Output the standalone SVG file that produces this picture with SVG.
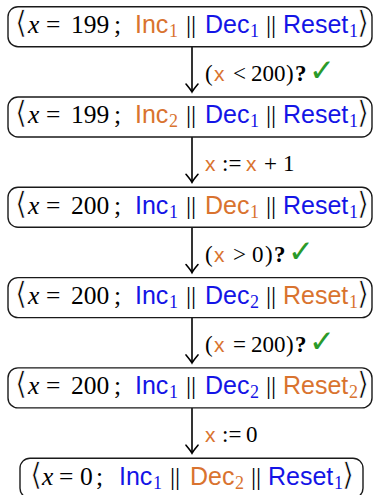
<svg xmlns="http://www.w3.org/2000/svg" width="373" height="495" viewBox="0 0 373 495">
<defs>
<style>
.box{fill:#fff;stroke:#1a1a1a;stroke-width:1.4}
.t{font-family:"Liberation Serif",serif;font-size:25.5px;fill:#000}
.it{font-style:italic}
.sf{font-family:"Liberation Sans",sans-serif;font-size:25px}
.sub{font-family:"Liberation Serif",serif;font-size:18px}
.br{font-family:"DejaVu Sans",sans-serif;font-size:31px;stroke:#fff;stroke-width:0.7}
.o{fill:#D9732F}
.b{fill:#1414E6}
.lab{font-family:"Liberation Serif",serif;font-size:23px;fill:#000}
.lsf{font-family:"Liberation Sans",sans-serif;font-size:21px}
.q{font-weight:bold}
.ck{font-family:"DejaVu Sans",sans-serif;font-size:31px;fill:#2A9A2A}
.arr{stroke:#000;stroke-width:1.6;fill:none}
</style>
<marker id="ah" markerUnits="userSpaceOnUse" viewBox="-10 -8 12 16" markerWidth="12" markerHeight="16" refX="0" refY="0" orient="auto" overflow="visible">
<path d="M -8 -6 Q -2 -1 0 0 Q -2 1 -8 6" fill="none" stroke="#000" stroke-width="1.6" stroke-linecap="round"/>
</marker>
</defs>
<g id="connectors">
<line class="arr" x1="192" y1="46.7" x2="192" y2="92" marker-end="url(#ah)"/>
<line class="arr" x1="192" y1="137" x2="192" y2="182.3" marker-end="url(#ah)"/>
<line class="arr" x1="192" y1="227.3" x2="192" y2="272.6" marker-end="url(#ah)"/>
<line class="arr" x1="192" y1="317.6" x2="192" y2="362.9" marker-end="url(#ah)"/>
<line class="arr" x1="192" y1="407.9" x2="192" y2="453.2" marker-end="url(#ah)"/>
<text class="lab" y="81"><tspan x="205">(</tspan><tspan class="lsf o" x="214">x</tspan><tspan x="233">&lt;</tspan><tspan x="251">200</tspan><tspan x="286">)</tspan><tspan class="q" x="295">?</tspan><tspan class="ck" x="309">✓</tspan></text>
<text class="lab" y="171"><tspan class="lsf o" x="205">x</tspan><tspan x="222">:=</tspan><tspan class="lsf o" x="246">x</tspan><tspan x="264">+</tspan><tspan x="283">1</tspan></text>
<text class="lab" y="262"><tspan x="205">(</tspan><tspan class="lsf o" x="214">x</tspan><tspan x="233">&gt;</tspan><tspan x="252">0</tspan><tspan x="265">)</tspan><tspan class="q" x="274">?</tspan><tspan class="ck" x="288">✓</tspan></text>
<text class="lab" y="352"><tspan x="205">(</tspan><tspan class="lsf o" x="214">x</tspan><tspan x="233">=</tspan><tspan x="251">200</tspan><tspan x="286">)</tspan><tspan class="q" x="295">?</tspan><tspan class="ck" x="309">✓</tspan></text>
<text class="lab" y="442"><tspan class="lsf o" x="205">x</tspan><tspan x="222">:=</tspan><tspan x="246">0</tspan></text>
</g>
<g id="s1">
<rect class="box" x="8" y="6.7" width="364" height="40" rx="10"/>
<text class="t" y="33"><tspan class="br" x="15">⟨</tspan><tspan class="it" x="28">x</tspan><tspan x="46">=</tspan><tspan x="71">199</tspan><tspan x="114">;</tspan><tspan class="sf o" x="135">Inc</tspan><tspan class="sub o" x="169" y="37">1</tspan><tspan x="186" y="33">||</tspan><tspan class="sf b" x="205">Dec</tspan><tspan class="sub b" x="250" y="37">1</tspan><tspan x="266" y="33">||</tspan><tspan class="sf b" x="283">Reset</tspan><tspan class="sub b" x="349" y="37">1</tspan><tspan class="br" x="357" y="33">⟩</tspan></text>
</g>
<g id="s2">
<rect class="box" x="8" y="97" width="364" height="40" rx="10"/>
<text class="t" y="123"><tspan class="br" x="15">⟨</tspan><tspan class="it" x="28">x</tspan><tspan x="46">=</tspan><tspan x="71">199</tspan><tspan x="114">;</tspan><tspan class="sf o" x="135">Inc</tspan><tspan class="sub o" x="169" y="127">2</tspan><tspan x="186" y="123">||</tspan><tspan class="sf b" x="205">Dec</tspan><tspan class="sub b" x="250" y="127">1</tspan><tspan x="266" y="123">||</tspan><tspan class="sf b" x="283">Reset</tspan><tspan class="sub b" x="349" y="127">1</tspan><tspan class="br" x="357" y="123">⟩</tspan></text>
</g>
<g id="s3">
<rect class="box" x="8" y="187.3" width="364" height="40" rx="10"/>
<text class="t" y="214"><tspan class="br" x="15">⟨</tspan><tspan class="it" x="28">x</tspan><tspan x="46">=</tspan><tspan x="71">200</tspan><tspan x="114">;</tspan><tspan class="sf b" x="135">Inc</tspan><tspan class="sub b" x="169" y="218">1</tspan><tspan x="186" y="214">||</tspan><tspan class="sf o" x="205">Dec</tspan><tspan class="sub o" x="250" y="218">1</tspan><tspan x="266" y="214">||</tspan><tspan class="sf b" x="283">Reset</tspan><tspan class="sub b" x="349" y="218">1</tspan><tspan class="br" x="357" y="214">⟩</tspan></text>
</g>
<g id="s4">
<rect class="box" x="8" y="277.6" width="364" height="40" rx="10"/>
<text class="t" y="304"><tspan class="br" x="15">⟨</tspan><tspan class="it" x="28">x</tspan><tspan x="46">=</tspan><tspan x="71">200</tspan><tspan x="114">;</tspan><tspan class="sf b" x="135">Inc</tspan><tspan class="sub b" x="169" y="308">1</tspan><tspan x="186" y="304">||</tspan><tspan class="sf b" x="205">Dec</tspan><tspan class="sub b" x="250" y="308">2</tspan><tspan x="266" y="304">||</tspan><tspan class="sf o" x="283">Reset</tspan><tspan class="sub o" x="349" y="308">1</tspan><tspan class="br" x="357" y="304">⟩</tspan></text>
</g>
<g id="s5">
<rect class="box" x="8" y="367.9" width="364" height="40" rx="10"/>
<text class="t" y="394"><tspan class="br" x="15">⟨</tspan><tspan class="it" x="28">x</tspan><tspan x="46">=</tspan><tspan x="71">200</tspan><tspan x="114">;</tspan><tspan class="sf b" x="135">Inc</tspan><tspan class="sub b" x="169" y="398">1</tspan><tspan x="186" y="394">||</tspan><tspan class="sf b" x="205">Dec</tspan><tspan class="sub b" x="250" y="398">2</tspan><tspan x="266" y="394">||</tspan><tspan class="sf o" x="283">Reset</tspan><tspan class="sub o" x="349" y="398">2</tspan><tspan class="br" x="357" y="394">⟩</tspan></text>
</g>
<g id="s6">
<rect class="box" x="20" y="458.2" width="343" height="40" rx="10"/>
<text class="t" y="484.5"><tspan class="br" x="30">⟨</tspan><tspan class="it" x="42">x</tspan><tspan x="59">=</tspan><tspan x="80">0</tspan><tspan x="96">;</tspan><tspan class="sf b" x="119">Inc</tspan><tspan class="sub b" x="153" y="488.5">1</tspan><tspan x="170" y="484.5">||</tspan><tspan class="sf o" x="190">Dec</tspan><tspan class="sub o" x="235" y="488.5">2</tspan><tspan x="251" y="484.5">||</tspan><tspan class="sf b" x="268">Reset</tspan><tspan class="sub b" x="334" y="488.5">1</tspan><tspan class="br" x="342" y="484.5">⟩</tspan></text>
</g>
</svg>
